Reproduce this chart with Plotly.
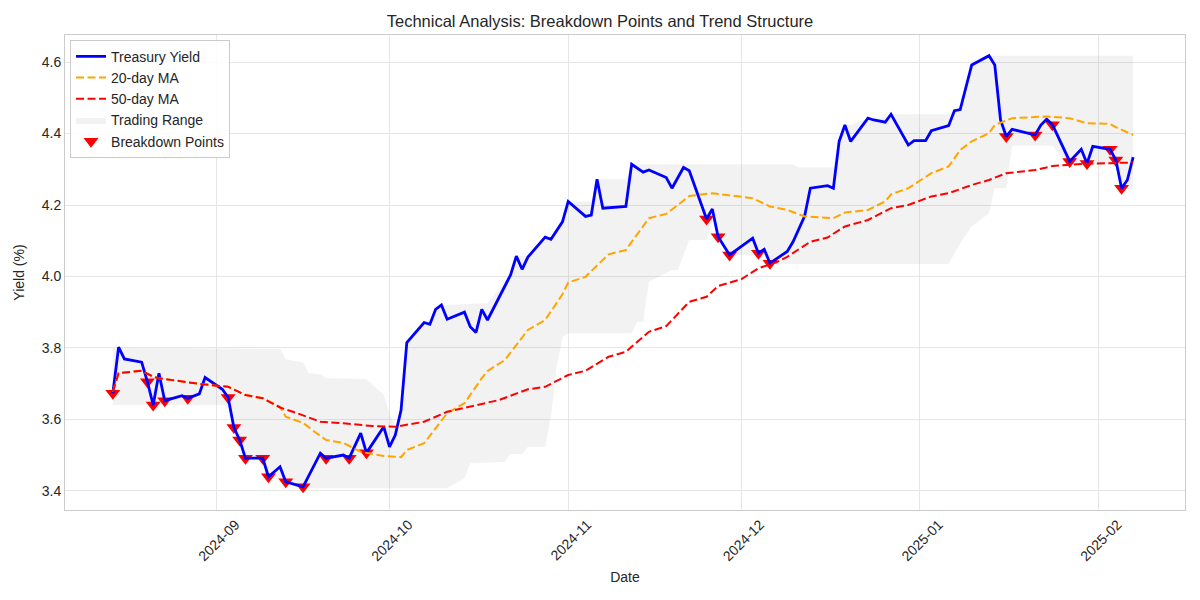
import plotly.graph_objects as go

# ---------------- data ----------------
yield_dates = [
    "2024-08-14", "2024-08-15", "2024-08-16", "2024-08-19", "2024-08-20", "2024-08-21", "2024-08-22",
    "2024-08-23", "2024-08-26", "2024-08-27", "2024-08-29", "2024-08-30", "2024-09-02", "2024-09-03",
    "2024-09-04", "2024-09-05", "2024-09-06", "2024-09-09", "2024-09-10", "2024-09-12", "2024-09-13",
    "2024-09-16", "2024-09-19", "2024-09-20", "2024-09-23", "2024-09-24", "2024-09-26", "2024-09-27",
    "2024-09-30", "2024-10-01", "2024-10-02", "2024-10-03", "2024-10-04", "2024-10-07", "2024-10-08",
    "2024-10-09", "2024-10-10", "2024-10-11", "2024-10-14", "2024-10-15", "2024-10-16", "2024-10-17",
    "2024-10-18", "2024-10-22", "2024-10-23", "2024-10-24", "2024-10-25", "2024-10-28", "2024-10-29",
    "2024-10-31", "2024-11-01", "2024-11-04", "2024-11-05", "2024-11-06", "2024-11-07", "2024-11-11",
    "2024-11-12", "2024-11-14", "2024-11-15", "2024-11-18", "2024-11-19", "2024-11-21", "2024-11-22",
    "2024-11-25", "2024-11-26", "2024-11-27", "2024-11-29", "2024-12-03", "2024-12-04", "2024-12-05",
    "2024-12-06", "2024-12-09", "2024-12-10", "2024-12-12", "2024-12-13", "2024-12-16", "2024-12-17",
    "2024-12-18", "2024-12-19", "2024-12-20", "2024-12-23", "2024-12-24", "2024-12-26", "2024-12-27",
    "2024-12-30", "2024-12-31", "2025-01-02", "2025-01-03", "2025-01-06", "2025-01-07", "2025-01-08",
    "2025-01-10", "2025-01-13", "2025-01-14", "2025-01-15", "2025-01-16", "2025-01-17", "2025-01-21",
    "2025-01-22", "2025-01-23", "2025-01-24", "2025-01-27", "2025-01-29", "2025-01-30", "2025-01-31",
    "2025-02-03", "2025-02-04", "2025-02-05", "2025-02-06", "2025-02-07",
]
yield_values = [
    3.673, 3.802, 3.769, 3.760, 3.705, 3.640, 3.729,
    3.652, 3.666, 3.659, 3.671, 3.717, 3.684, 3.661,
    3.577, 3.542, 3.491, 3.491, 3.439, 3.467, 3.425,
    3.411, 3.505, 3.491, 3.500, 3.491, 3.561, 3.506,
    3.579, 3.523, 3.556, 3.626, 3.815, 3.871, 3.866,
    3.908, 3.920, 3.880, 3.900, 3.859, 3.843, 3.908,
    3.878, 4.004, 4.057, 4.020, 4.054, 4.110, 4.104,
    4.153, 4.210, 4.168, 4.172, 4.272, 4.191, 4.196,
    4.314, 4.292, 4.298, 4.277, 4.247, 4.305, 4.296,
    4.161, 4.189, 4.111, 4.060, 4.107, 4.065, 4.076,
    4.037, 4.070, 4.097, 4.168, 4.247, 4.254, 4.247,
    4.378, 4.424, 4.378, 4.443, 4.438, 4.432, 4.454,
    4.368, 4.380, 4.380, 4.408, 4.422, 4.464, 4.467,
    4.592, 4.618, 4.592, 4.438, 4.392, 4.412, 4.396,
    4.424, 4.440, 4.425, 4.322, 4.356, 4.316, 4.364,
    4.356, 4.326, 4.247, 4.270, 4.334,
]

ma20_dates = [
    "2024-08-14", "2024-08-15", "2024-08-19", "2024-08-21", "2024-08-22", "2024-08-29", "2024-09-03",
    "2024-09-06", "2024-09-09", "2024-09-12", "2024-09-13", "2024-09-16", "2024-09-18", "2024-09-20",
    "2024-09-23", "2024-09-26", "2024-09-30", "2024-10-03", "2024-10-04", "2024-10-07", "2024-10-11",
    "2024-10-14", "2024-10-17", "2024-10-18", "2024-10-21", "2024-10-25", "2024-10-28", "2024-10-31",
    "2024-11-01", "2024-11-04", "2024-11-08", "2024-11-11", "2024-11-15", "2024-11-18", "2024-11-22",
    "2024-11-26", "2024-12-03", "2024-12-06", "2024-12-09", "2024-12-12", "2024-12-17", "2024-12-19",
    "2024-12-23", "2024-12-26", "2024-12-27", "2024-12-30", "2025-01-03", "2025-01-06", "2025-01-08",
    "2025-01-10", "2025-01-13", "2025-01-14", "2025-01-17", "2025-01-23", "2025-01-27", "2025-01-30",
    "2025-02-03", "2025-02-04", "2025-02-07",
]
ma20_values = [
    3.677, 3.729, 3.736, 3.719, 3.715, 3.699, 3.691,
    3.668, 3.659, 3.635, 3.607, 3.590, 3.565, 3.542,
    3.534, 3.509, 3.497, 3.494, 3.514, 3.533, 3.617,
    3.645, 3.715, 3.735, 3.766, 3.850, 3.878, 3.950,
    3.983, 3.999, 4.062, 4.074, 4.163, 4.175, 4.225,
    4.233, 4.219, 4.196, 4.186, 4.168, 4.163, 4.179,
    4.186, 4.210, 4.230, 4.247, 4.289, 4.308, 4.354,
    4.378, 4.401, 4.424, 4.443, 4.448, 4.443, 4.429,
    4.427, 4.418, 4.396,
]

ma50_dates = [
    "2024-08-14", "2024-08-15", "2024-08-19", "2024-08-21", "2024-08-22", "2024-08-29", "2024-09-03",
    "2024-09-06", "2024-09-09", "2024-09-12", "2024-09-15", "2024-09-17", "2024-09-19", "2024-09-23",
    "2024-09-26", "2024-09-28", "2024-10-02", "2024-10-07", "2024-10-11", "2024-10-15", "2024-10-20",
    "2024-10-25", "2024-10-28", "2024-11-01", "2024-11-04", "2024-11-08", "2024-11-11", "2024-11-15",
    "2024-11-18", "2024-11-22", "2024-11-25", "2024-11-27", "2024-12-01", "2024-12-04", "2024-12-07",
    "2024-12-09", "2024-12-13", "2024-12-16", "2024-12-19", "2024-12-23", "2024-12-27", "2024-12-30",
    "2025-01-03", "2025-01-06", "2025-01-10", "2025-01-13", "2025-01-16", "2025-01-21", "2025-01-24",
    "2025-01-29", "2025-02-07",
]
ma50_values = [
    3.677, 3.729, 3.736, 3.719, 3.715, 3.699, 3.691,
    3.668, 3.659, 3.633, 3.617, 3.606, 3.593, 3.589,
    3.584, 3.581, 3.579, 3.593, 3.621, 3.635, 3.654,
    3.684, 3.691, 3.724, 3.736, 3.775, 3.789, 3.845,
    3.861, 3.929, 3.943, 3.973, 3.992, 4.023, 4.039,
    4.055, 4.097, 4.109, 4.140, 4.158, 4.191, 4.200,
    4.224, 4.233, 4.256, 4.270, 4.289, 4.298, 4.309,
    4.315, 4.319,
]

range_top_dates = [
    "2024-08-14", "2024-09-12", "2024-09-13", "2024-09-16", "2024-09-17", "2024-09-19", "2024-09-20",
    "2024-09-27", "2024-09-30", "2024-10-01", "2024-10-02", "2024-10-03", "2024-10-04", "2024-10-07",
    "2024-10-08", "2024-10-09", "2024-10-10", "2024-10-18", "2024-10-22", "2024-10-23", "2024-10-25",
    "2024-10-28", "2024-10-29", "2024-10-31", "2024-11-01", "2024-11-05", "2024-11-06", "2024-11-11",
    "2024-11-12", "2024-12-10", "2024-12-11", "2024-12-17", "2024-12-18", "2024-12-19", "2024-12-20",
    "2024-12-23", "2024-12-26", "2024-12-27", "2025-01-06", "2025-01-07", "2025-01-08", "2025-01-10",
    "2025-01-13", "2025-02-07",
]
range_top_values = [
    3.800, 3.797, 3.768, 3.759, 3.729, 3.726, 3.715,
    3.713, 3.668, 3.617, 3.579, 3.626, 3.815, 3.871,
    3.871, 3.908, 3.920, 3.925, 4.004, 4.057, 4.057,
    4.110, 4.110, 4.153, 4.210, 4.210, 4.272, 4.272,
    4.314, 4.314, 4.305, 4.305, 4.378, 4.424, 4.424,
    4.443, 4.443, 4.454, 4.454, 4.464, 4.467, 4.592,
    4.618, 4.618,
]

range_bottom_dates = [
    "2024-08-14", "2024-09-03", "2024-09-04", "2024-09-05", "2024-09-06", "2024-09-09", "2024-09-10",
    "2024-09-13", "2024-09-16", "2024-10-11", "2024-10-14", "2024-10-15", "2024-10-21", "2024-10-22",
    "2024-10-24", "2024-10-25", "2024-10-28", "2024-10-29", "2024-10-30", "2024-10-31", "2024-11-01",
    "2024-11-12", "2024-11-13", "2024-11-14", "2024-11-15", "2024-11-19", "2024-11-20", "2024-11-22",
    "2024-11-25", "2024-11-26", "2024-11-27", "2024-11-29", "2024-12-05", "2024-12-06", "2025-01-06",
    "2025-01-08", "2025-01-10", "2025-01-13", "2025-01-14", "2025-01-16", "2025-01-17", "2025-01-24",
    "2025-01-27", "2025-02-04", "2025-02-05", "2025-02-07",
]
range_bottom_values = [
    3.640, 3.640, 3.577, 3.542, 3.491, 3.491, 3.439,
    3.425, 3.407, 3.407, 3.435, 3.477, 3.481, 3.503,
    3.503, 3.523, 3.523, 3.607, 3.747, 3.831, 3.841,
    3.841, 3.873, 3.873, 3.985, 4.018, 4.018, 4.102,
    4.102, 4.153, 4.111, 4.060, 4.060, 4.035, 4.035,
    4.093, 4.140, 4.177, 4.247, 4.247, 4.366, 4.366,
    4.312, 4.312, 4.245, 4.245,
]

breakdown_dates = [
    "2024-08-14", "2024-08-20", "2024-08-21", "2024-08-23", "2024-08-27", "2024-09-03", "2024-09-04",
    "2024-09-05", "2024-09-06", "2024-09-09", "2024-09-10", "2024-09-13", "2024-09-16", "2024-09-20",
    "2024-09-24", "2024-09-27", "2024-11-25", "2024-11-27", "2024-11-29", "2024-12-04", "2024-12-06",
    "2025-01-16", "2025-01-21", "2025-01-24", "2025-01-27", "2025-01-30", "2025-02-03", "2025-02-04",
    "2025-02-05",
]

x_tick_dates = ["2024-09-01", "2024-10-01", "2024-11-01", "2024-12-01", "2025-01-01", "2025-02-01"]
x_tick_labels = ["2024-09", "2024-10", "2024-11", "2024-12", "2025-01", "2025-02"]
y_tick_values = [3.4, 3.6, 3.8, 4.0, 4.2, 4.4, 4.6]
y_tick_labels = ["3.4", "3.6", "3.8", "4.0", "4.2", "4.4", "4.6"]

# ---------------- figure ----------------
FONT = "Liberation Sans, Arial, Helvetica, sans-serif"
TXT = "#262626"

yield_lookup = dict(zip(yield_dates, yield_values))
breakdown_values = [yield_lookup[d] for d in breakdown_dates]

fig = go.Figure()

# trading range band (closed polygon)
fig.add_trace(go.Scatter(
    x=range_top_dates + range_bottom_dates[::-1],
    y=range_top_values + range_bottom_values[::-1],
    fill="toself", fillcolor="rgba(128,128,128,0.1)",
    line=dict(width=0), mode="lines", name="Trading Range",
    legendrank=4, hoverinfo="skip",
))

# breakdown markers (under the lines, as in the original)
fig.add_trace(go.Scatter(
    x=breakdown_dates, y=breakdown_values, mode="markers",
    marker=dict(symbol="triangle-down", size=13, color="#ff0000", line=dict(width=0)),
    name="Breakdown Points", legendrank=5,
))

fig.add_trace(go.Scatter(
    x=yield_dates, y=yield_values, mode="lines",
    line=dict(color="#0000ff", width=2.8), name="Treasury Yield", legendrank=1,
))
fig.add_trace(go.Scatter(
    x=ma20_dates, y=ma20_values, mode="lines",
    line=dict(color="#ffa500", width=2, dash="8px,3.5px"), name="20-day MA", legendrank=2,
))
fig.add_trace(go.Scatter(
    x=ma50_dates, y=ma50_values, mode="lines",
    line=dict(color="#ff0000", width=2, dash="8px,3.5px"), name="50-day MA", legendrank=3,
))

# The page body has an 8px default margin, so the figure is 16px smaller
# than the window and margins are set so the plot area lands where intended.
fig.update_layout(
    width=1184, height=584,
    margin=dict(l=57, r=7, t=27, b=82),
    paper_bgcolor="white", plot_bgcolor="white",
    font=dict(family=FONT, size=14, color=TXT),
    title=dict(text="Technical Analysis: Breakdown Points and Trend Structure",
               x=0.5, xanchor="center", y=0.978, yanchor="middle", yref="container",
               font=dict(size=16.5, color=TXT)),
    showlegend=True,
    legend=dict(x=0.0045, y=0.99, xanchor="left", yanchor="top",
                bgcolor="rgba(255,255,255,0.85)", bordercolor="#cccccc", borderwidth=1,
                font=dict(size=14, color=TXT), itemwidth=30, tracegroupgap=0),
)

fig.update_xaxes(
    type="date", range=["2024-08-05 16:48", "2025-02-16 00:00"],
    tickvals=x_tick_dates, ticktext=x_tick_labels, tickangle=-45, ticklabelshift=19,
    tickfont=dict(size=14, color=TXT),
    showgrid=True, gridcolor="#e6e6e6", gridwidth=1,
    showline=True, linecolor="#cccccc", linewidth=1, mirror=True,
    ticks="", zeroline=False, automargin=False,
    title=dict(text="Date", font=dict(size=14, color=TXT), standoff=8),
)
fig.update_yaxes(
    range=[3.346, 4.676],
    tickvals=y_tick_values, ticktext=y_tick_labels,
    tickfont=dict(size=14, color=TXT),
    showgrid=True, gridcolor="#e6e6e6", gridwidth=1,
    showline=True, linecolor="#cccccc", linewidth=1, mirror=True,
    ticks="", zeroline=False, automargin=False,
    title=dict(text="Yield (%)", font=dict(size=14, color=TXT), standoff=13),
)

fig.write_html("out.html")
